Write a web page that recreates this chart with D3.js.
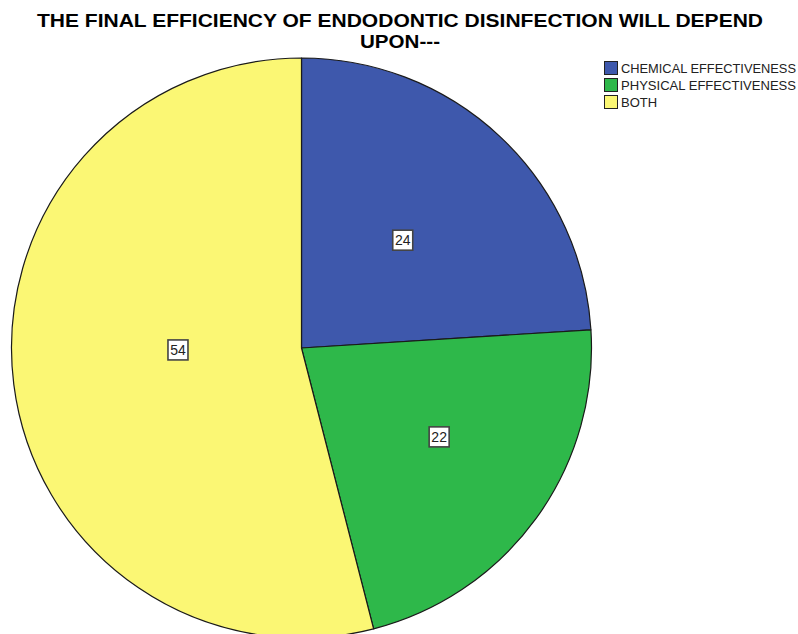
<!DOCTYPE html>
<html>
<head>
<meta charset="utf-8">
<script src="https://cdn.jsdelivr.net/npm/d3@7"></script>
<style>
  html, body { margin: 0; padding: 0; background: #fff; }
  svg { display: block; }
</style>
</head>
<body>
<svg id="chart" width="798" height="634"></svg>
<script>
// Survey responses: what the final efficiency of endodontic disinfection depends on
const categories = ["CHEMICAL EFFECTIVENESS", "PHYSICAL EFFECTIVENESS", "BOTH"];
const percentages = [24, 22, 54];
const sliceColors = ["#3e58ac", "#2eb84a", "#fbf774"];
const titleLines = ["THE FINAL EFFICIENCY OF ENDODONTIC DISINFECTION WILL DEPEND", "UPON---"];

const svg = d3.select("#chart");
const cx = 301.5, cy = 348, R = 290;
const FONT = "'Liberation Sans', Arial, sans-serif";

const data = categories.map((c, i) => ({ category: c, value: percentages[i], color: sliceColors[i] }));

// Title (two centred lines, slightly condensed)
const title = svg.append("g").attr("font-family", FONT).attr("font-weight", "bold")
  .attr("font-size", 18.5).attr("fill", "#000").attr("text-anchor", "middle");
title.append("text").attr("x", 400).attr("y", 26.5)
  .attr("textLength", 726).attr("lengthAdjust", "spacingAndGlyphs").text(titleLines[0]);
title.append("text").attr("x", 400).attr("y", 47.5)
  .attr("textLength", 80).attr("lengthAdjust", "spacingAndGlyphs").text(titleLines[1]);

// Pie, clockwise from 12 o'clock
const pie = d3.pie().value(d => d.value).sort(null);
const arc = d3.arc().innerRadius(0).outerRadius(R);
const arcs = pie(data);

const g = svg.append("g").attr("transform", `translate(${cx},${cy})`);
g.selectAll("path.slice").data(arcs).join("path")
  .attr("class", "slice")
  .attr("d", arc)
  .attr("fill", d => d.data.color)
  .attr("stroke", "#1a1a1a")
  .attr("stroke-width", 1.2)
  .attr("stroke-linejoin", "round");

// Value labels in framed boxes, placed along each slice's bisector
const labelRadiusFactor = [0.51, 0.565, 0.426];
const labelAngleShift = [0, -0.055, 0.11];
const labels = g.selectAll("g.lbl").data(arcs).join("g").attr("class", "lbl")
  .attr("transform", (d, i) => {
    const r = R * labelRadiusFactor[i];
    const a = (d.startAngle + d.endAngle) / 2 + labelAngleShift[i];
    return `translate(${r * Math.sin(a)},${-r * Math.cos(a)})`;
  });
labels.append("rect")
  .attr("x", -10).attr("y", -10).attr("width", 20).attr("height", 20)
  .attr("fill", "#fff").attr("stroke", "#444").attr("stroke-width", 1.6);
labels.append("text")
  .attr("text-anchor", "middle").attr("dy", "0.36em")
  .attr("font-family", FONT).attr("font-size", 14).attr("fill", "#222")
  .text(d => d.data.value);

// Legend
const legend = svg.append("g").attr("transform", "translate(604,61)");
const rows = legend.selectAll("g").data(data).join("g")
  .attr("transform", (d, i) => `translate(0,${i * 17})`);
rows.append("rect").attr("x", 0.5).attr("y", 0.5).attr("width", 13).attr("height", 13)
  .attr("fill", d => d.color).attr("stroke", "#222").attr("stroke-width", 1);
rows.append("text").attr("x", 17).attr("y", 12)
  .attr("font-family", FONT).attr("font-size", 13).attr("fill", "#222")
  .attr("textLength", d => d.category.length > 4 ? 175 : null)
  .attr("lengthAdjust", "spacingAndGlyphs")
  .text(d => d.category);
</script>
</body>
</html>
